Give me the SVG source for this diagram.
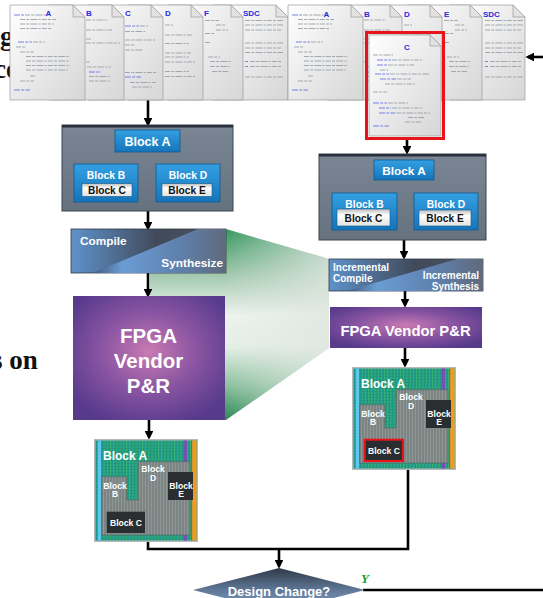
<svg xmlns="http://www.w3.org/2000/svg" xmlns:xlink="http://www.w3.org/1999/xlink" width="543" height="598" viewBox="0 0 543 598">
<style>
  .sans{font-family:"Liberation Sans",Arial,sans-serif;font-weight:bold}
  .w{fill:#fff}
  .k{fill:#111}
  .pl{fill:#2a2ae0;font-family:"Liberation Sans",Arial,sans-serif;font-weight:bold;font-size:8px}
  .cd{stroke:#9aa0a8;stroke-width:.9;fill:none;stroke-dasharray:5 1.2 3 1.2 7 1.2 2 1.2}
  .cb{stroke:#6a74e8;stroke-width:.9;fill:none;stroke-dasharray:6 1.2 3 1.2}
  .ln{stroke:#000;stroke-width:2.6;fill:none}
  .arr{stroke:#000;stroke-width:2.6;fill:none;marker-end:url(#ah)}
  .hbox{fill:url(#hierBg);stroke:#3a4450;stroke-width:1}
  .btn{fill:url(#blueBtn);stroke:#0d5a92;stroke-width:.8}
  .slot{fill:url(#slot);stroke:#0d5a92;stroke-width:.6}
  .bg{font-family:"Liberation Serif","Times New Roman",serif;font-weight:bold;font-size:27px;fill:#111}
  .dark{fill:#2a2e30}
</style>
<defs>
  <marker id="ah" viewBox="0 0 10 10" refX="7" refY="5" markerWidth="3.4" markerHeight="3.4" orient="auto">
    <path d="M0,0L10,5L0,10z" fill="#000"/>
  </marker>
  <linearGradient id="paper" x1="0" y1="0" x2="1" y2="1">
    <stop offset="0" stop-color="#ffffff"/><stop offset="1" stop-color="#d6d6d6"/>
  </linearGradient>
  <linearGradient id="hierBg" x1="0" y1="0" x2="0" y2="1">
    <stop offset="0" stop-color="#7b8694"/><stop offset="1" stop-color="#66727f"/>
  </linearGradient>
  <linearGradient id="blueBtn" x1="0" y1="0" x2="0" y2="1">
    <stop offset="0" stop-color="#33a0e2"/><stop offset="1" stop-color="#1574ba"/>
  </linearGradient>
  <linearGradient id="slot" x1="0" y1="0" x2="0" y2="1">
    <stop offset="0" stop-color="#bdbdbd"/><stop offset=".35" stop-color="#ffffff"/><stop offset="1" stop-color="#e2e2e2"/>
  </linearGradient>
  <linearGradient id="cmpUp" x1="0" y1="0" x2="1" y2="0">
    <stop offset="0" stop-color="#5e92cb"/><stop offset=".55" stop-color="#414a5a"/><stop offset="1" stop-color="#4b5463"/>
  </linearGradient>
  <linearGradient id="cmpLow" x1="0" y1="0" x2="1" y2="0">
    <stop offset="0" stop-color="#43597a"/><stop offset=".22" stop-color="#6a9dd5"/><stop offset=".65" stop-color="#5f80ad"/><stop offset="1" stop-color="#5f6a7b"/>
  </linearGradient>
  <radialGradient id="purple" cx=".5" cy=".45" r=".62">
    <stop offset="0" stop-color="#c97ab2"/><stop offset=".5" stop-color="#8a55a2"/><stop offset="1" stop-color="#573a8c"/>
  </radialGradient>
  <linearGradient id="funnelV" gradientUnits="userSpaceOnUse" x1="0" y1="229" x2="0" y2="420">
    <stop offset="0" stop-color="#37975f"/><stop offset=".25" stop-color="#a6cbb2"/><stop offset=".45" stop-color="#eef3ef"/>
    <stop offset=".62" stop-color="#e4eee6"/><stop offset=".82" stop-color="#8cc09e"/><stop offset="1" stop-color="#2a8954"/>
  </linearGradient>
  <linearGradient id="funnelH" gradientUnits="userSpaceOnUse" x1="226" y1="0" x2="329" y2="0">
    <stop offset="0" stop-color="#dfe6e0" stop-opacity="0"/><stop offset="1" stop-color="#dfe6e0" stop-opacity=".8"/>
  </linearGradient>
  <linearGradient id="diam" gradientUnits="userSpaceOnUse" x1="0" y1="568" x2="0" y2="612">
    <stop offset="0" stop-color="#2f3947"/><stop offset=".5" stop-color="#5f7897"/><stop offset="1" stop-color="#8aa7cd"/>
  </linearGradient>
  <pattern id="teal" width="3.2" height="3" patternUnits="userSpaceOnUse">
    <rect width="3.2" height="3" fill="#1f9a88"/>
    <rect width="1" height="3" fill="#3fb56e"/>
    <rect y="0" width="3.2" height=".5" fill="#17806f" opacity=".6"/>
  </pattern>
  <pattern id="fab" width="3" height="3" patternUnits="userSpaceOnUse">
    <rect width="3" height="3" fill="#7c8583"/>
    <rect width="1" height="3" fill="#8e9794"/>
  </pattern>

  <!-- one sheet of source code with a dog-eared corner -->
  <g id="pg">
    <path d="M0,0H63L75,12V95H0Z" fill="url(#paper)" stroke="#9b9b9b" stroke-width=".7"/>
    <path d="M63,0V12H75Z" fill="#e2e2e2" stroke="#9b9b9b" stroke-width=".7"/>
  </g>

  <!-- code line sketches, one set per visible strip -->
  <g id="codeA">
    <path class="cb" d="M4,10h10M8,37h14M4,85h16"/>
    <path class="cd" d="M15,10h24M10,14.5h36M10,19h34M10,23.5h32M23,37h12M6,42h10M10,47h14M16,51.5h44M16,56h44M16,60.5h44M16,65h42M20,71h6M10,76h14"/>
  </g>
  <g id="codeB">
    <path class="cd" d="M1,15h22M1,25h26M1,34h6M1,38h34M1,57h4M2,62h24M4,71.5h22M4,76h22"/>
    <path class="cb" d="M4,67h12"/>
  </g>
  <g id="codeC">
    <path class="cb" d="M1,21h14M1,72h16"/>
    <path class="cd" d="M16,21h8M1,26.5h20M1,35h30M1,40h10M1,45h18M1,67.5h32M6,77.5h26M8,82h20"/>
  </g>
  <g id="codeD">
    <path class="cd" d="M1,20h8M1,30h28M1,38.5h24M1,48h26M1,52h24M1,57h30M1,66.5h24M1,71.5h30"/>
  </g>
  <g id="codeF">
    <path class="cd" d="M1,15.5h14M12,20h10M12,25h12M1,28.5h10M1,37.5h6M4,52h12M6,56.5h22M6,61.5h20M8,66.5h16"/>
  </g>
  <g id="codeS">
    <path class="cd" d="M1,15.5h38M1,20h38M1,25h36M1,38h38M1,43h36M1,47.5h38M1,72h38M6,56.5h32M6,61.5h32"/>
    <path class="cb" d="M1,56.5h3M1,61.5h3"/>
  </g>

  <!-- placed-and-routed die: fabric, hard stripes and block regions -->
  <g id="chipBase">
    <rect x="0" y="0" width="104" height="103" fill="#b4b8ba"/>
    <rect x="1.5" y="1.5" width="101" height="100" fill="url(#teal)"/>
    <rect x="4" y="1.5" width="3" height="100" fill="#5ec6ef"/>
    <rect x="89.5" y="1.5" width="3.5" height="100" fill="#7a4fb5"/>
    <rect x="97" y="1.5" width="1.2" height="100" fill="#d8452a"/>
    <rect x="98.2" y="1.5" width="4.3" height="100" fill="#f39a1e"/>
    <path d="M7.7,37.7H32.7V61H44.3V22.7H96V96H7.7Z" fill="url(#fab)" stroke="#5d6664" stroke-width=".6"/>
    <rect x="74" y="33" width="25" height="28" class="dark"/>
    <rect x="12.7" y="72.7" width="38.3" height="21.3" class="dark"/>
  </g>
</defs>

<!-- slide text running in from the left edge -->
<g id="edge-text">
  <text class="bg" x="0" y="45">g</text>
  <text class="bg" x="-6" y="78">ce</text>
  <text class="bg" x="-8" y="369">s on</text>
</g>

<!-- connectors -->
<g id="connectors">
  <polygon points="150,229 226,229 329,259 329,348 226,420 150,420" fill="url(#funnelV)"/>
  <polygon points="150,229 226,229 329,259 329,348 226,420 150,420" fill="url(#funnelH)"/>
  <path class="arr" d="M148,100V124"/>
  <path class="arr" d="M148,211V228"/>
  <path class="arr" d="M148,273V295"/>
  <path class="arr" d="M149,420V437"/>
  <path class="arr" d="M407,139V152"/>
  <path class="arr" d="M404,240V257"/>
  <path class="arr" d="M405,291V305"/>
  <path class="arr" d="M405,348V365"/>
  <path class="arr" d="M543,57H528"/>
  <path class="ln" d="M148,542V549H408V470"/>
  <path class="arr" d="M279,549V566"/>
  <path class="ln" d="M363,590H543"/>
  <path d="M147,152V160M105,165V160H188V165" stroke="#111" stroke-width="3" fill="none"/>
  <path d="M404,180V188M363,193V188H442V193" stroke="#111" stroke-width="3" fill="none"/>
</g>

<!-- full source set -->
<g id="sources-full">
  <use xlink:href="#pg" x="213" y="5"/>
  <use xlink:href="#pg" x="168" y="5"/>
  <use xlink:href="#pg" x="128" y="5"/>
  <use xlink:href="#pg" x="88" y="5"/>
  <use xlink:href="#pg" x="49" y="5"/>
  <use xlink:href="#pg" x="10" y="5"/>
  <use xlink:href="#codeA" x="10" y="5"/>
  <use xlink:href="#codeB" x="85" y="5"/>
  <use xlink:href="#codeC" x="124" y="5"/>
  <use xlink:href="#codeD" x="164" y="5"/>
  <use xlink:href="#codeF" x="204" y="5"/>
  <use xlink:href="#codeS" x="244" y="5"/>
  <text class="pl" x="48.5" y="16" text-anchor="middle">A</text>
  <text class="pl" x="86" y="16">B</text>
  <text class="pl" x="125" y="16">C</text>
  <text class="pl" x="165" y="16">D</text>
  <text class="pl" x="204" y="16">F</text>
  <text class="pl" x="243" y="16">SDC</text>
</g>

<!-- source set with the edited file pulled out -->
<g id="sources-edit">
  <use xlink:href="#pg" x="450" y="5"/>
  <use xlink:href="#pg" x="407" y="5"/>
  <use xlink:href="#pg" x="367" y="5"/>
  <use xlink:href="#pg" x="327" y="5"/>
  <use xlink:href="#pg" x="288" y="5"/>
  <use xlink:href="#codeA" x="288" y="5"/>
  <use xlink:href="#codeB" x="363" y="5"/>
  <use xlink:href="#codeD" x="403" y="5"/>
  <use xlink:href="#codeF" x="443" y="5"/>
  <use xlink:href="#codeS" x="484" y="5"/>
  <text class="pl" x="326.5" y="16.5" text-anchor="middle">A</text>
  <text class="pl" x="364" y="16.5">B</text>
  <text class="pl" x="404" y="16.5">D</text>
  <text class="pl" x="444" y="16.5">E</text>
  <text class="pl" x="483" y="16.5">SDC</text>
</g>
<g id="source-c-edited">
  <path d="M369,35H430L441,46V136H369Z" fill="url(#paper)" stroke="#9b9b9b" stroke-width=".7"/>
  <path d="M430,35V46H441Z" fill="#e2e2e2" stroke="#9b9b9b" stroke-width=".7"/>
  <path class="cd" d="M373,55h20M392,60h30M388,65h26M380,70h8M390,74h40M397,79h14M385,84h30M373,92h14M388,103h20M392,108h30M396,113h34M408,117.5h16M405,122h16"/>
  <path class="cb" d="M377,60h14M377,65h10M375,74h14M380,79h16M373,103h14M379,108h12M379,113h16M373,126h16"/>
  <text class="pl" x="407" y="49.5" text-anchor="middle">C</text>
  <rect x="366.5" y="32.5" width="77" height="106" fill="none" stroke="#e8141a" stroke-width="3"/>
</g>

<!-- design hierarchy, full build -->
<g id="hier-full">
  <rect class="hbox" x="62" y="125" width="171" height="86"/>
  <rect x="62" y="125" width="171" height="2.5" fill="#27303b"/>
  <rect class="btn" x="115" y="130" width="65" height="22"/>
  <text class="sans w" x="147.5" y="146" font-size="12.5" text-anchor="middle">Block A</text>
  <rect class="btn" x="74" y="164" width="64" height="38"/>
  <text class="sans w" x="106" y="179" font-size="10.3" text-anchor="middle">Block B</text>
  <rect class="slot" x="82" y="183.5" width="50" height="13"/>
  <text class="sans k" x="107" y="194" font-size="10.2" text-anchor="middle">Block C</text>
  <rect class="btn" x="156" y="164" width="64" height="38"/>
  <text class="sans w" x="188" y="179" font-size="10.3" text-anchor="middle">Block D</text>
  <rect class="slot" x="162" y="183.5" width="50" height="13"/>
  <text class="sans k" x="187" y="194" font-size="10.2" text-anchor="middle">Block E</text>
</g>

<!-- design hierarchy, incremental build -->
<g id="hier-incr">
  <rect class="hbox" x="319" y="154" width="167" height="86"/>
  <rect x="319" y="154" width="167" height="2.5" fill="#27303b"/>
  <rect class="btn" x="374" y="160" width="60" height="20"/>
  <text class="sans w" x="404" y="174.5" font-size="11.8" text-anchor="middle">Block A</text>
  <rect class="btn" x="332" y="193" width="65" height="37"/>
  <text class="sans w" x="364.5" y="208" font-size="10.3" text-anchor="middle">Block B</text>
  <rect class="slot" x="337" y="209" width="53" height="17" stroke="#e8141a" stroke-width="2"/>
  <text class="sans k" x="363.5" y="222" font-size="10.2" text-anchor="middle">Block C</text>
  <rect class="btn" x="414" y="193" width="64" height="37"/>
  <text class="sans w" x="446" y="208" font-size="10.3" text-anchor="middle">Block D</text>
  <rect class="slot" x="419" y="210" width="52" height="16"/>
  <text class="sans k" x="445" y="222" font-size="10.2" text-anchor="middle">Block E</text>
</g>

<!-- compile / synthesize -->
<g id="compile">
  <rect x="71" y="229" width="155" height="44" fill="url(#cmpUp)" stroke="#323a45" stroke-width=".8"/>
  <polygon points="93,273 198,229 226,229 226,273" fill="url(#cmpLow)"/>
  <text class="sans w" x="80" y="245" font-size="11.8">Compile</text>
  <text class="sans w" x="223" y="267" font-size="11.8" text-anchor="end">Synthesize</text>
</g>

<g id="incremental">
  <rect x="329" y="259" width="154" height="32" fill="url(#cmpUp)" stroke="#323a45" stroke-width=".8"/>
  <polygon points="347,291 457,259 483,259 483,291" fill="url(#cmpLow)"/>
  <text class="sans w" x="333" y="271" font-size="10">Incremental</text>
  <text class="sans w" x="333" y="282" font-size="10">Compile</text>
  <text class="sans w" x="479" y="278.5" font-size="10" text-anchor="end">Incremental</text>
  <text class="sans w" x="479" y="289.5" font-size="10" text-anchor="end">Synthesis</text>
</g>

<!-- place and route -->
<g id="pnr-full">
  <rect x="73" y="296" width="152" height="124" fill="url(#purple)"/>
  <text class="sans w" x="148.5" y="343" font-size="20.5" text-anchor="middle">FPGA</text>
  <text class="sans w" x="148.5" y="368" font-size="20.5" text-anchor="middle">Vendor</text>
  <text class="sans w" x="148.5" y="393" font-size="20.5" text-anchor="middle">P&amp;R</text>
</g>

<g id="pnr-incr">
  <rect x="330" y="307" width="152" height="41" fill="url(#purple)"/>
  <text class="sans w" x="405.5" y="336" font-size="14.8" text-anchor="middle">FPGA Vendor P&amp;R</text>
</g>

<!-- resulting layouts -->
<g id="layout-full" transform="translate(94,439)">
  <use xlink:href="#chipBase"/>
  <g class="sans w">
    <text x="9" y="21" font-size="12">Block A</text>
    <text x="59" y="32.5" font-size="8.6" text-anchor="middle">Block</text>
    <text x="59" y="42" font-size="8.6" text-anchor="middle">D</text>
    <text x="21" y="49.5" font-size="8.6" text-anchor="middle">Block</text>
    <text x="21" y="58" font-size="8.6" text-anchor="middle">B</text>
    <text x="87" y="49.5" font-size="8.6" text-anchor="middle">Block</text>
    <text x="87" y="58" font-size="8.6" text-anchor="middle">E</text>
    <text x="32" y="87" font-size="8.6" text-anchor="middle">Block C</text>
  </g>
</g>

<g id="layout-incr" transform="translate(352,367)">
  <use xlink:href="#chipBase"/>
  <rect x="12.7" y="72.7" width="38.3" height="21.3" fill="none" stroke="#e8141a" stroke-width="2"/>
  <g class="sans w">
    <text x="9" y="21" font-size="12">Block A</text>
    <text x="59" y="32.5" font-size="8.6" text-anchor="middle">Block</text>
    <text x="59" y="42" font-size="8.6" text-anchor="middle">D</text>
    <text x="21" y="49.5" font-size="8.6" text-anchor="middle">Block</text>
    <text x="21" y="58" font-size="8.6" text-anchor="middle">B</text>
    <text x="87" y="49.5" font-size="8.6" text-anchor="middle">Block</text>
    <text x="87" y="58" font-size="8.6" text-anchor="middle">E</text>
    <text x="32" y="87" font-size="8.6" text-anchor="middle">Block C</text>
  </g>
</g>

<!-- decision -->
<g id="design-change">
  <polygon points="193,590 279,568 365,590 279,612" fill="url(#diam)"/>
  <text class="sans w" x="279" y="596" font-size="13" text-anchor="middle">Design Change?</text>
  <text x="361" y="583" font-family="Liberation Serif, Times New Roman, serif" font-weight="bold" font-style="italic" font-size="13" fill="#1e9a2a">Y</text>
</g>
</svg>
